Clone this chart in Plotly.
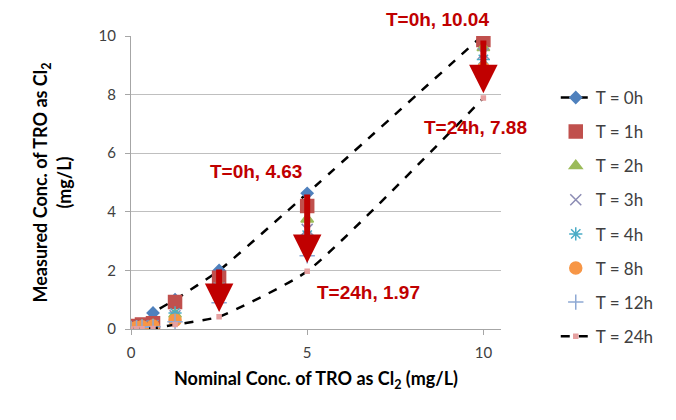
import plotly.graph_objects as go

# nominal concentration (mg/L)
nominal = [0, 0.156, 0.3125, 0.625, 1.25, 2.5, 5, 10]

# measured TRO at each sampling time (mg/L)
t0 = [0.05, 0.08, 0.12, 0.55, 1.0, 2.0, 4.63, 10.04]
t1 = [0.05, 0.10, 0.15, 0.20, 0.92, 1.75, 4.20, 9.86]
t2 = [0.04, 0.08, 0.12, 0.15, 0.50, 1.50, 3.75, 9.60]
t3 = [0.03, 0.06, 0.10, 0.12, 0.45, 1.40, 3.40, 9.40]
t4 = [0.03, 0.06, 0.09, 0.12, 0.55, 1.30, 3.20, 9.20]
t8 = [0.02, 0.05, 0.08, 0.10, 0.30, 1.10, 2.80, 8.90]
t12 = [0.02, 0.04, 0.06, 0.08, 0.25, 0.90, 2.50, 8.60]
t24 = [0.00, 0.01, 0.01, 0.02, 0.15, 0.42, 1.97, 7.88]

red = '#C00000'
fig = go.Figure()

def add(name, y, symbol, color, size, line=False, lw=1.5):
    fig.add_trace(go.Scatter(
        x=nominal, y=y, name=name, legendgroup=name,
        mode='lines+markers' if line else 'markers',
        line=dict(color='black', dash='dash', width=2.5, shape='spline', smoothing=0.5),
        marker=dict(symbol=symbol, color=color, size=size, line=dict(color=color, width=lw)),
    ))

add('T = 0h', t0, 'diamond', '#4F81BD', 9, line=True)
add('T = 1h', t1, 'square', '#C0504D', 13)
add('T = 2h', t2, 'triangle-up', '#9BBB59', 11)
add('T = 3h', t3, 'x-thin-open', '#8C8CB4', 11)
add('T = 4h', t4, 'asterisk-open', '#4BACC6', 11)
add('T = 8h', t8, 'circle', '#F79646', 12)
add('T = 12h', t12, 'cross-thin-open', '#8EA9D4', 11)
add('T = 24h', t24, 'square', '#E6A0A0', 4, line=True)

# red arrows showing decay from T=0h to T=24h
arrows = [(2.5, 2.08, 0.58), (5, 4.64, 2.25), (10, 9.9, 8.05)]
for x, y0, y1 in arrows:
    fig.add_annotation(x=x, y=y1, ax=x, ay=y0, xref='x', yref='y', axref='x', ayref='y',
                       showarrow=True, arrowhead=2, arrowsize=0.95, arrowwidth=6,
                       arrowcolor=red, text='')

labels = [(8.7, 1.055, 'T=0h, 10.04'), (9.77, 0.689, 'T=24h, 7.88'),
          (3.54, 0.536, 'T=0h, 4.63'), (6.74, 0.123, 'T=24h, 1.97')]
for x, y, t in labels:
    fig.add_annotation(x=x, y=y, xref='x', yref='paper', text='<b>%s</b>' % t,
                       showarrow=False, xanchor='center', yanchor='middle',
                       font=dict(family='Liberation Sans', size=19, color=red))

fig.update_layout(
    width=676, height=420,
    margin=dict(l=123, r=183, t=28, b=99),
    paper_bgcolor='white', plot_bgcolor='white',
    font=dict(family='Lato', size=15, color='#404040'),
    legend=dict(x=1.148, y=0.85, xanchor='left', yanchor='top', tracegroupgap=9,
                font=dict(size=17, color='#404040')),
)
fig.update_xaxes(range=[0, 10.5], tickvals=[0, 5, 10], showgrid=False,
                 showline=True, linecolor='#a6a6a6', ticks='outside', ticklen=5,
                 tickcolor='#a6a6a6', zeroline=False, ticklabelstandoff=5,
                 title=dict(text='<b>Nominal Conc. of TRO as Cl<sub>2</sub> (mg/L)</b>',
                            font=dict(size=18, color='black'), standoff=12))
fig.update_yaxes(range=[0, 10], tickvals=[0, 2, 4, 6, 8, 10], showgrid=True,
                 gridcolor='#bfbfbf', showline=True, linecolor='#a6a6a6',
                 ticks='outside', ticklen=5, tickcolor='#a6a6a6', zeroline=False,
                 ticklabelstandoff=6,
                 title=dict(text='<b>Measured Conc. of TRO as Cl<sub>2</sub><br>(mg/L)</b>',
                            font=dict(size=18, color='black'), standoff=22))

fig.write_html('out.html')
